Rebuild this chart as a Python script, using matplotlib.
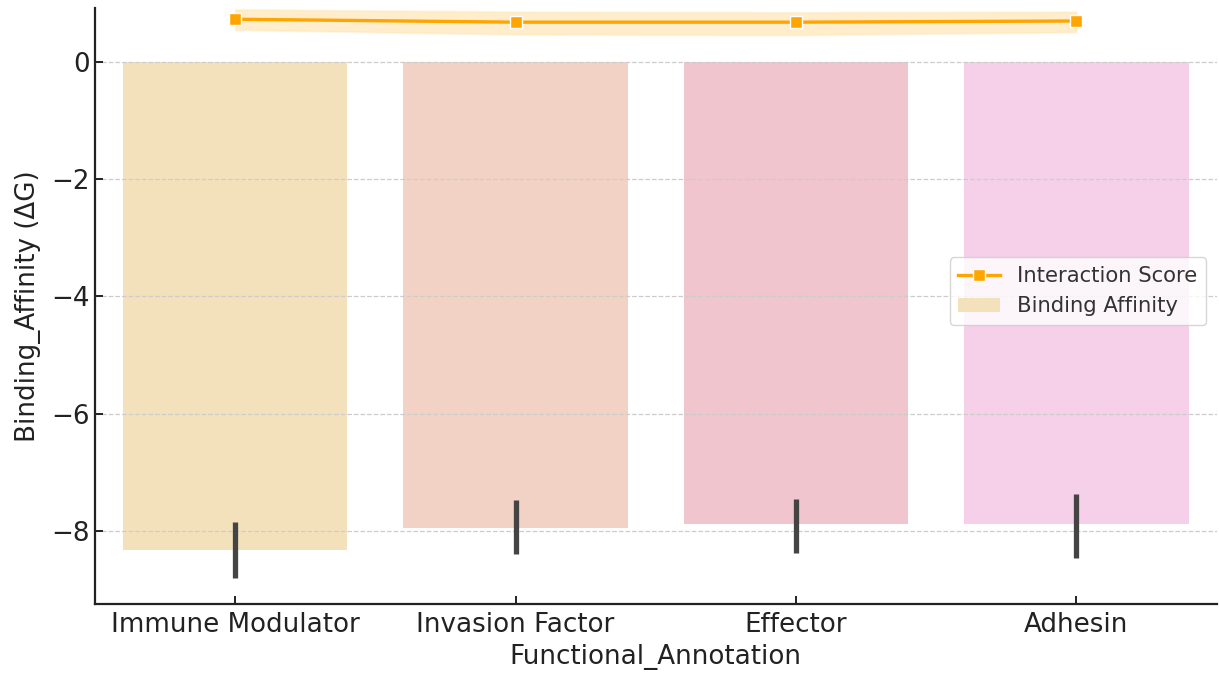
import matplotlib.pyplot as plt
import numpy as np

# bar data: mean binding affinity per annotation with error range
categories = ["Immune Modulator", "Invasion Factor", "Effector", "Adhesin"]
affinity = [-8.33, -7.95, -7.88, -7.88]
affinity_lo = [-8.81, -8.40, -8.38, -8.46]
affinity_hi = [-7.85, -7.47, -7.46, -7.37]
bar_colors = ["#f3e1bb", "#f2d2c4", "#f1c5cd", "#f5d0e8"]

# line data: interaction score with band
score = [0.73, 0.68, 0.68, 0.70]
score_lo = [0.55, 0.47, 0.46, 0.51]
score_hi = [0.90, 0.86, 0.85, 0.86]

plt.rcParams["font.family"] = "DejaVu Sans"
fig = plt.figure(figsize=(12.19, 6.75), dpi=100)
ax = fig.add_axes([0.078, 0.105, 0.92, 0.883])

x = np.arange(len(categories))
affinity = np.array(affinity)
yerr = np.array([affinity - np.array(affinity_lo), np.array(affinity_hi) - affinity])

bars = ax.bar(x, affinity, width=0.8, color=bar_colors, zorder=1, label="Binding Affinity")
ax.errorbar(x, affinity, yerr=yerr, fmt="none", ecolor="#444444", elinewidth=3.8, capsize=0, zorder=3)

ax.fill_between(x, score_lo, score_hi, color="#ffa500", alpha=0.2, linewidth=1.5,
                edgecolor="#ffd98f", zorder=3)
ax.plot(x, score, color="#ffa500", linewidth=2.4, marker="s", markersize=8.5,
        markeredgecolor="white", markeredgewidth=1, zorder=4, label="Interaction Score")

ax.set_xlim(-0.5, 3.5)
ax.set_ylim(-9.25, 0.92)
ax.set_yticks([0, -2, -4, -6, -8])
ax.set_yticklabels(["0", "\u22122", "\u22124", "\u22126", "\u22128"])
ax.set_xticks(x)
ax.set_xticklabels(categories)

ax.set_axisbelow(False)
ax.yaxis.grid(True, linestyle="--", color="#cccccc", linewidth=0.9)
ax.xaxis.grid(False)

for side in ["top", "right"]:
    ax.spines[side].set_visible(False)
for side in ["left", "bottom"]:
    ax.spines[side].set_linewidth(1.6)
    ax.spines[side].set_color("#222222")
ax.tick_params(direction="in", length=6, width=1.4, labelsize=18.8, colors="#222222")
ax.tick_params(axis="x", pad=6)

ax.set_xlabel("Functional_Annotation", fontsize=18.8, color="#222222", labelpad=4)
ax.set_ylabel("Binding_Affinity (\u0394G)", fontsize=18.8, color="#222222", labelpad=8)

h, l = ax.get_legend_handles_labels()
order = [l.index("Interaction Score"), l.index("Binding Affinity")]
leg = ax.legend([h[i] for i in order], [l[i] for i in order], loc="center right",
                bbox_to_anchor=(1.0, 0.525), fontsize=15.2, framealpha=0.8, borderpad=0.4)
for t in leg.get_texts():
    t.set_color("#333333")

fig.savefig("out.png", dpi=100)
